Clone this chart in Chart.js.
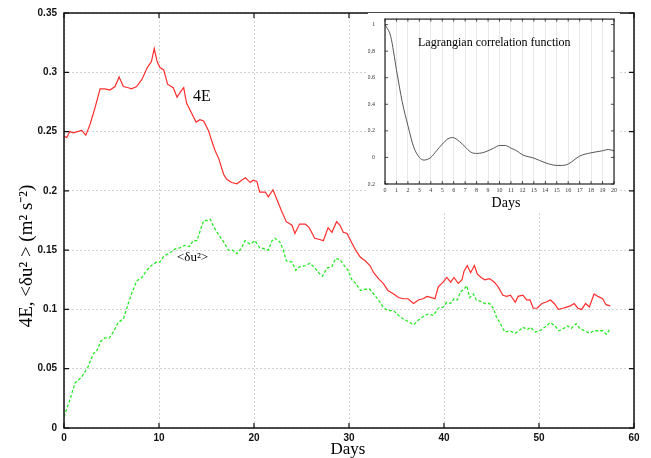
<!DOCTYPE html>
<html>
<head>
<meta charset="utf-8">
<script src="https://cdn.jsdelivr.net/npm/chart.js@4"></script>
<style>
  body { margin: 0; background: #fff; overflow: hidden; }
  #wrap { position: relative; width: 651px; height: 458px; }
  #inset { position: absolute; left: 368px; top: 13px; width: 252px; height: 200px; background: #fff; }
</style>
</head>
<body>
<div id="wrap">
  <canvas id="main" width="651" height="458"></canvas>
  <div id="inset"><canvas id="corr" width="252" height="200"></canvas></div>
</div>
<script>
// 4E (red, solid)
const days4E = [0, 0.3, 0.6, 1.0, 1.4, 1.86, 2.3, 2.74, 3.26, 3.8, 4.3, 4.84, 5.37, 5.8, 6.25, 6.77, 7.1, 7.65, 8.2, 8.77,
  9.2, 9.5, 9.8, 10.1, 10.5, 10.9, 11.5, 11.9, 12.3, 12.6, 12.9, 13.4, 13.9, 14.3, 14.7, 15.2, 15.6, 15.9, 16.3, 16.8,
  17.1, 17.65, 18.2, 18.7, 19.1, 19.6, 19.9, 20.3, 20.6, 21.2, 21.5, 22.0, 22.4, 22.9, 23.4, 24.0, 24.3, 24.8, 25.4, 25.8,
  26.4, 26.9, 27.3, 27.8, 28.2, 28.7, 29.05, 29.4, 29.8, 30.3, 30.7, 31.2, 31.7, 32.2, 32.6, 33.1, 33.6, 34.1, 34.7, 35.2,
  35.7, 36.2, 36.8, 37.3, 37.8, 38.2, 38.7, 39.05, 39.4, 39.9, 40.3, 40.7, 41.05, 41.5, 41.9, 42.1, 42.45, 42.8, 43.2, 43.5,
  43.9, 44.3, 44.8, 45.3, 45.7, 46.2, 46.6, 47.0, 47.5, 47.8, 48.3, 48.7, 49.05, 49.4, 49.8, 50.3, 50.7, 51.2, 51.6, 52.05,
  52.5, 52.9, 53.3, 53.7, 54.1, 54.5, 54.9, 55.3, 55.8, 56.2, 56.7, 57.05, 57.5];
const values4E = [0.246, 0.245, 0.25, 0.249, 0.25, 0.251, 0.247, 0.256, 0.270, 0.286, 0.286, 0.285, 0.288, 0.296, 0.288, 0.287, 0.286, 0.288, 0.294, 0.304,
  0.309, 0.320, 0.309, 0.304, 0.302, 0.290, 0.287, 0.279, 0.284, 0.287, 0.274, 0.266, 0.258, 0.260, 0.259, 0.251, 0.241, 0.234, 0.227, 0.214,
  0.210, 0.207, 0.206, 0.209, 0.211, 0.207, 0.209, 0.208, 0.199, 0.199, 0.195, 0.201, 0.193, 0.183, 0.174, 0.171, 0.164, 0.172, 0.172, 0.169,
  0.160, 0.159, 0.158, 0.169, 0.165, 0.174, 0.171, 0.165, 0.164, 0.156, 0.150, 0.144, 0.141, 0.137, 0.131, 0.126, 0.122, 0.116, 0.113, 0.110,
  0.109, 0.109, 0.105, 0.108, 0.109, 0.111, 0.110, 0.109, 0.119, 0.123, 0.127, 0.123, 0.127, 0.122, 0.125, 0.132, 0.137, 0.131, 0.137, 0.130,
  0.127, 0.125, 0.126, 0.123, 0.119, 0.112, 0.111, 0.112, 0.106, 0.111, 0.112, 0.108, 0.108, 0.101, 0.101, 0.105, 0.106, 0.108, 0.105, 0.100,
  0.101, 0.102, 0.103, 0.105, 0.101, 0.100, 0.105, 0.102, 0.113, 0.111, 0.109, 0.104, 0.103];

// <du^2> (green, dashed)
const daysDu2 = [0, 0.63, 1.16, 1.86, 2.56, 3.1, 3.4, 3.86, 4.3, 4.77, 5.2, 5.7, 6.25, 6.77, 7.1, 7.65, 8.2, 8.7, 9.2, 9.75,
  10.1, 10.5, 11.2, 11.7, 12.2, 12.7, 13.2, 13.6, 14.0, 14.4, 14.7, 15.1, 15.4, 15.8, 16.2, 16.8, 17.3, 17.75, 18.2, 18.7,
  19.05, 19.6, 20.1, 20.6, 21.2, 21.5, 21.9, 22.2, 22.7, 23.1, 23.4, 24.0, 24.4, 24.8, 25.4, 25.9, 26.4, 26.8, 27.2, 27.7,
  28.2, 28.6, 29.05, 29.5, 29.9, 30.3, 30.7, 31.2, 31.7, 32.2, 32.6, 33.1, 33.6, 34.1, 34.7, 35.2, 35.7, 36.2, 36.8, 37.3,
  37.8, 38.3, 38.9, 39.4, 39.9, 40.3, 40.7, 41.05, 41.4, 41.75, 42.1, 42.4, 42.7, 43.1, 43.4, 43.8, 44.3, 44.8, 45.2, 45.5,
  46.0, 46.4, 46.9, 47.5, 47.9, 48.3, 48.8, 49.1, 49.6, 50.1, 50.6, 51.2, 51.7, 52.1, 52.6, 53.0, 53.4, 53.9, 54.3, 54.8,
  55.3, 55.8, 56.2, 56.7, 57.1, 57.5];
const valuesDu2 = [0.0095, 0.024, 0.038, 0.043, 0.052, 0.063, 0.064, 0.073, 0.076, 0.076, 0.081, 0.089, 0.092, 0.105, 0.113, 0.124, 0.127, 0.133, 0.137, 0.140,
  0.140, 0.145, 0.148, 0.151, 0.152, 0.154, 0.153, 0.158, 0.158, 0.168, 0.175, 0.175, 0.176, 0.169, 0.164, 0.157, 0.150, 0.150, 0.147, 0.152,
  0.158, 0.155, 0.158, 0.152, 0.151, 0.150, 0.158, 0.160, 0.157, 0.150, 0.141, 0.140, 0.133, 0.136, 0.137, 0.139, 0.135, 0.131, 0.128, 0.135,
  0.136, 0.143, 0.142, 0.137, 0.133, 0.125, 0.122, 0.116, 0.117, 0.117, 0.113, 0.108, 0.102, 0.099, 0.099, 0.095, 0.092, 0.090, 0.087, 0.091,
  0.094, 0.096, 0.095, 0.101, 0.102, 0.106, 0.105, 0.109, 0.108, 0.115, 0.117, 0.120, 0.110, 0.113, 0.108, 0.107, 0.105, 0.105, 0.101, 0.094,
  0.087, 0.081, 0.082, 0.080, 0.082, 0.085, 0.083, 0.085, 0.081, 0.082, 0.085, 0.089, 0.086, 0.082, 0.084, 0.086, 0.084, 0.088, 0.084, 0.082,
  0.080, 0.082, 0.082, 0.082, 0.079, 0.084];

// inset: Lagrangian correlation function
const corrDays = [0, 0.5, 1, 1.5, 2, 2.5, 3, 3.4, 4, 4.5, 5, 5.5, 5.9, 6.5, 7, 7.5, 8, 8.5, 9, 9.5,
  10, 10.5, 11, 11.5, 12, 13, 14, 15, 15.5, 16, 16.5, 17, 18, 19, 19.5, 20];
const corrValues = [1.0, 0.91, 0.66, 0.42, 0.24, 0.08, 0.0, -0.02, 0.0, 0.05, 0.10, 0.14, 0.15, 0.12, 0.08, 0.04, 0.03, 0.035, 0.05, 0.07,
  0.09, 0.09, 0.07, 0.05, 0.02, -0.005, -0.04, -0.06, -0.06, -0.05, -0.02, 0.01, 0.035, 0.05, 0.06, 0.05];

// tick labels
const xTicks = [0, 10, 20, 30, 40, 50, 60];
const yTicks = [0, 0.05, 0.1, 0.15, 0.2, 0.25, 0.3, 0.35];
const yTickLabels = ['0', '0.05', '0.1', '0.15', '0.2', '0.25', '0.3', '0.35'];
const insetXTicks = [0, 1, 2, 3, 4, 5, 6, 7, 8, 9, 10, 11, 12, 13, 14, 15, 16, 17, 18, 19, 20];
const insetYTicks = [-0.2, 0, 0.2, 0.4, 0.6, 0.8, 1];
const insetYTickLabels = ['-0.2', '0', '0.2', '0.4', '0.6', '0.8', '1'];

function zip(xs, ys) {
  return xs.map((x, i) => ({ x: x, y: ys[i] }));
}

const serif = '"Liberation Serif", "Times New Roman", serif';

// frame, inward ticks, labels and titles for the main plot
const mainDecor = {
  id: 'mainDecor',
  afterDraw(chart) {
    const ctx = chart.ctx;
    const a = chart.chartArea;
    const xs = chart.scales.x, ys = chart.scales.y;
    ctx.save();
    ctx.strokeStyle = '#111';
    ctx.lineWidth = 1.5;
    ctx.strokeRect(a.left, a.top, a.right - a.left, a.bottom - a.top);
    ctx.lineWidth = 1.2;
    ctx.beginPath();
    xTicks.forEach(v => {
      const px = xs.getPixelForValue(v);
      ctx.moveTo(px, a.bottom); ctx.lineTo(px, a.bottom - 5);
      ctx.moveTo(px, a.top); ctx.lineTo(px, a.top + 5);
    });
    yTicks.forEach(v => {
      const py = ys.getPixelForValue(v);
      ctx.moveTo(a.left, py); ctx.lineTo(a.left + 5, py);
      ctx.moveTo(a.right, py); ctx.lineTo(a.right - 5, py);
    });
    ctx.stroke();

    ctx.fillStyle = '#000';
    ctx.textBaseline = 'middle';
    ctx.textAlign = 'left';
    ctx.font = '16px ' + serif;
    ctx.fillText('4E', 193, 97);
    ctx.font = '13px ' + serif;
    ctx.fillText('<δu²>', 177, 258);

    ctx.textAlign = 'center';
    ctx.font = '17px ' + serif;
    ctx.fillText('Days', 348, 450);

    ctx.translate(27, 256);
    ctx.rotate(-Math.PI / 2);
    ctx.font = '19px ' + serif;
    ctx.fillText('4E, <δu² > (m² s⁻²)', 0, 0);
    ctx.restore();
  }
};

new Chart(document.getElementById('main').getContext('2d'), {
  type: 'line',
  data: {
    datasets: [
      {
        label: '4E',
        data: zip(days4E, values4E),
        borderColor: 'rgb(255,45,45)',
        borderWidth: 1.2,
        pointRadius: 0,
        tension: 0
      },
      {
        label: '<du2>',
        data: zip(daysDu2, valuesDu2),
        borderColor: 'rgb(40,235,40)',
        borderWidth: 1.3,
        borderDash: [3, 2],
        pointRadius: 0,
        tension: 0
      }
    ]
  },
  options: {
    responsive: false,
    animation: false,
    layout: { padding: { top: 12, right: 17, left: 0, bottom: 0 } },
    plugins: { legend: { display: false }, tooltip: { enabled: false } },
    scales: {
      x: {
        type: 'linear', min: 0, max: 60,
        afterFit: s => { s.height = 30; },
        afterBuildTicks: s => { s.ticks = xTicks.map(v => ({ value: v })); },
        grid: { color: '#d4d4d4', lineWidth: 1, drawTicks: false },
        border: { display: false, dash: [2, 2] },
        ticks: { color: '#111', padding: 4, maxRotation: 0, font: { family: '"Liberation Sans", Arial, sans-serif', size: 10, weight: 'bold' } }
      },
      y: {
        min: 0, max: 0.35,
        afterFit: s => { s.width = 64; },
        afterBuildTicks: s => { s.ticks = yTicks.map(v => ({ value: v })); },
        grid: { color: '#d4d4d4', lineWidth: 1, drawTicks: false },
        border: { display: false, dash: [2, 2] },
        ticks: {
          color: '#111', padding: 7,
          font: { family: '"Liberation Sans", Arial, sans-serif', size: 10, weight: 'bold' },
          callback: (v, i) => yTickLabels[i]
        }
      }
    }
  },
  plugins: [mainDecor]
});

// frame, ticks and text for the inset
const insetDecor = {
  id: 'insetDecor',
  afterDraw(chart) {
    const ctx = chart.ctx;
    const a = chart.chartArea;
    const xs = chart.scales.x, ys = chart.scales.y;
    ctx.save();
    ctx.strokeStyle = '#222';
    ctx.lineWidth = 1.2;
    ctx.strokeRect(a.left, a.top + 0.5, a.right - a.left, a.bottom - a.top - 0.5);
    ctx.lineWidth = 0.8;
    ctx.beginPath();
    insetXTicks.forEach(v => {
      const px = xs.getPixelForValue(v);
      ctx.moveTo(px, a.bottom); ctx.lineTo(px, a.bottom - 3);
      ctx.moveTo(px, a.top); ctx.lineTo(px, a.top + 3);
    });
    insetYTicks.forEach(v => {
      const py = ys.getPixelForValue(v);
      ctx.moveTo(a.left, py); ctx.lineTo(a.left + 3, py);
      ctx.moveTo(a.right, py); ctx.lineTo(a.right - 3, py);
    });
    ctx.stroke();

    ctx.fillStyle = '#000';
    ctx.textBaseline = 'middle';
    ctx.textAlign = 'left';
    ctx.font = '12px ' + serif;
    ctx.fillText('Lagrangian correlation function', 50, 30);
    ctx.textAlign = 'center';
    ctx.font = '14px ' + serif;
    ctx.fillText('Days', 138, 190);
    ctx.restore();
  }
};

new Chart(document.getElementById('corr').getContext('2d'), {
  type: 'line',
  data: {
    datasets: [{
      label: 'corr',
      data: zip(corrDays, corrValues),
      borderColor: '#444',
      borderWidth: 0.9,
      pointRadius: 0,
      cubicInterpolationMode: 'monotone'
    }]
  },
  options: {
    responsive: false,
    animation: false,
    layout: { padding: { top: 0, right: 4, left: 0, bottom: 0 } },
    plugins: { legend: { display: false }, tooltip: { enabled: false } },
    scales: {
      x: {
        type: 'linear', min: 0, max: 20,
        afterFit: s => { s.height = 29; },
        afterBuildTicks: s => { s.ticks = insetXTicks.map(v => ({ value: v })); },
        grid: { color: '#dedede', lineWidth: 0.7, drawTicks: false },
        border: { display: false },
        ticks: { color: '#333', padding: 3, autoSkip: false, maxRotation: 0, font: { family: serif, size: 6 } }
      },
      y: {
        min: -0.2, max: 1.045,
        afterFit: s => { s.width = 17; },
        afterBuildTicks: s => { s.ticks = insetYTicks.map(v => ({ value: v })); },
        grid: { display: false },
        border: { display: false },
        ticks: {
          color: '#333', padding: 2, font: { family: serif, size: 6 },
          callback: (v, i) => insetYTickLabels[i]
        }
      }
    }
  },
  plugins: [insetDecor]
});
</script>
</body>
</html>
